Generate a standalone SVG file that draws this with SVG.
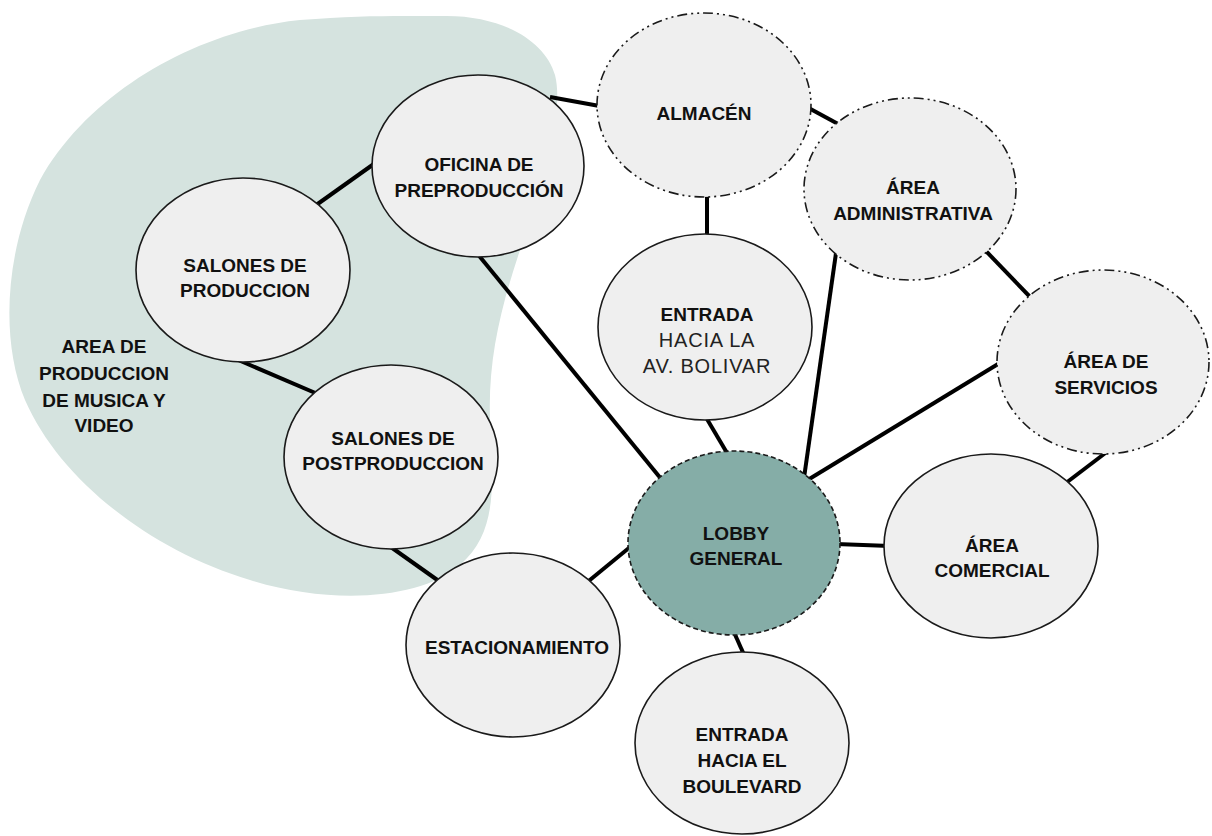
<svg xmlns="http://www.w3.org/2000/svg" width="1212" height="836" viewBox="0 0 1212 836">
<style>
.n{fill:#efefef;stroke:#1a1a1a;stroke-width:1.6}
.dd{stroke-dasharray:10 4 2 4 2 4}
.lob{fill:#85ada7;stroke:#1a1a1a;stroke-width:1.6;stroke-dasharray:5 3}
.t{font-family:"Liberation Sans",Arial,sans-serif;font-weight:bold;font-size:19px;fill:#111;text-anchor:middle}
.r{font-weight:normal;font-size:20px;letter-spacing:0.8px;fill:#222}
.c line{stroke:#000;stroke-width:4;stroke-linecap:butt}
</style>
<rect width="1212" height="836" fill="#fff"/>
<path id="zone" d="M440,16 C500,14 545,40 555,75 C565,115 540,190 520,250 C500,310 488,360 490,420 C492,480 500,530 460,565 C420,600 330,605 250,580 C150,550 60,480 25,400 C0,340 5,250 40,180 C90,90 200,30 300,20 C360,15 400,16 440,16 Z" fill="#d5e3df"/>
<g id="zone-label" class="t">
<text x="104" y="353">AREA DE</text>
<text x="104" y="380">PRODUCCION</text>
<text x="104" y="407">DE MUSICA Y</text>
<text x="104" y="432">VIDEO</text>
</g>
<g id="connectors" class="c">
<line x1="550" y1="97" x2="605" y2="107"/>
<line x1="805" y1="106" x2="840" y2="125"/>
<line x1="707" y1="192" x2="707" y2="240"/>
<line x1="312" y1="208" x2="378" y2="161"/>
<line x1="236" y1="359" x2="320" y2="395"/>
<line x1="388" y1="545" x2="443" y2="584"/>
<line x1="476" y1="252" x2="662" y2="480"/>
<line x1="585" y1="584" x2="635" y2="543"/>
<line x1="704" y1="414" x2="730" y2="458"/>
<line x1="837" y1="246" x2="804" y2="478"/>
<line x1="1003" y1="361" x2="806" y2="481"/>
<line x1="983" y1="248" x2="1034" y2="301"/>
<line x1="1062" y1="486" x2="1108" y2="451"/>
<line x1="836" y1="544" x2="890" y2="546"/>
<line x1="733" y1="630" x2="745" y2="657"/>
</g>
<g id="oficina"><ellipse class="n" cx="478" cy="166" rx="106" ry="91"/><text class="t" x="479" y="171">OFICINA DE</text><text class="t" x="479" y="197">PREPRODUCCIÓN</text></g>
<g id="almacen"><ellipse class="n dd" cx="704" cy="105" rx="107" ry="92"/><text class="t" x="704" y="120">ALMACÉN</text></g>
<g id="administrativa"><ellipse class="n dd" cx="910" cy="189" rx="106" ry="91"/><text class="t" x="913" y="194">ÁREA</text><text class="t" x="913" y="220">ADMINISTRATIVA</text></g>
<g id="servicios"><ellipse class="n dd" cx="1103" cy="362" rx="106" ry="92"/><text class="t" x="1106" y="368">ÁREA DE</text><text class="t" x="1106" y="394">SERVICIOS</text></g>
<g id="entrada-bolivar"><ellipse class="n" cx="705" cy="327" rx="107" ry="93"/><text class="t" x="707" y="321">ENTRADA</text><text class="t r" x="707" y="347">HACIA LA</text><text class="t r" x="707" y="373">AV. BOLIVAR</text></g>
<g id="salones-produccion"><ellipse class="n" cx="243" cy="270" rx="107" ry="92"/><text class="t" x="245" y="272">SALONES DE</text><text class="t" x="245" y="297">PRODUCCION</text></g>
<g id="salones-postproduccion"><ellipse class="n" cx="391" cy="457" rx="107" ry="92"/><text class="t" x="393" y="445">SALONES DE</text><text class="t" x="393" y="470">POSTPRODUCCION</text></g>
<g id="lobby"><ellipse class="lob" cx="734" cy="543" rx="106" ry="92"/><text class="t" x="736" y="540">LOBBY</text><text class="t" x="736" y="565">GENERAL</text></g>
<g id="comercial"><ellipse class="n" cx="991" cy="546" rx="107" ry="92"/><text class="t" x="992" y="552">ÁREA</text><text class="t" x="992" y="577">COMERCIAL</text></g>
<g id="estacionamiento"><ellipse class="n" cx="513" cy="645" rx="107" ry="92"/><text class="t" x="517" y="654">ESTACIONAMIENTO</text></g>
<g id="entrada-boulevard"><ellipse class="n" cx="742" cy="743" rx="107" ry="91"/><text class="t" x="742" y="741">ENTRADA</text><text class="t" x="742" y="767">HACIA EL</text><text class="t" x="742" y="793">BOULEVARD</text></g>
</svg>
